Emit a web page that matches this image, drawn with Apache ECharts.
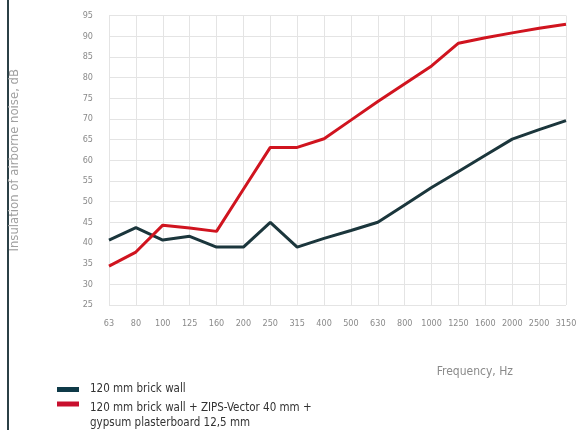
<!DOCTYPE html>
<html><head><meta charset="utf-8">
<script src="https://cdn.jsdelivr.net/npm/echarts@6/dist/echarts.min.js"></script>
<style>html,body{margin:0;padding:0;background:#fff}#c{width:580px;height:430px}</style>
</head><body><div id="c"></div>
<script>
const categories = ['63','80','100','125','160','200','250','315','400','500','630','800','1000','1250','1600','2000','2500','3150'];
const brickWall = [40.7,43.7,40.7,41.6,39,39,45,39,41.1,43,45,49.2,53.4,57.3,61.2,65.1,67.4,69.6];
const brickWallZips = [34.4,37.8,44.3,43.6,42.8,53,63.1,63.1,65.2,69.7,74.2,78.5,82.8,88.3,89.6,90.8,91.9,92.9];
const nameA = '120 mm brick wall';
const nameB = '120 mm brick wall + ZIPS-Vector 40 mm +\ngypsum plasterboard 12,5 mm';
const fontFam = '"DejaVu Sans Condensed","Roboto","Noto Sans",sans-serif';
const txt = {color:'#333',fontSize:11.5,fontFamily:fontFam,lineHeight:15};
const legendRich = {
  a:Object.assign({},txt,{padding:[0,0,0,6]}),
  b:Object.assign({},txt,{padding:[8,0,0,6]})
};
const nameBLines = nameB.split('\n');
const chart = echarts.init(document.getElementById('c'));
chart.setOption({
  animation:false,
  grid:{left:108,right:14,top:15.5,bottom:125},
  xAxis:{type:'category',data:categories,boundaryGap:false,
    axisLine:{show:false},axisTick:{show:false},
    axisLabel:{color:'#8a8a8a',fontSize:9,fontFamily:fontFam,margin:14,interval:0},
    splitLine:{show:true,lineStyle:{color:'#e4e4e4',width:1}}},
  yAxis:{type:'value',min:25,max:95,interval:5,
    name:'Insulation of airborne noise, dB',nameLocation:'middle',nameGap:88,
    nameTextStyle:{color:'#a0a0a0',fontSize:13,fontFamily:fontFam},
    axisLine:{show:false},axisTick:{show:false},
    axisLabel:{color:'#8a8a8a',fontSize:9,fontFamily:fontFam,margin:16},
    splitLine:{lineStyle:{color:'#e4e4e4',width:1}}},
  legend:[
    {orient:'vertical',left:57,top:383.5,padding:0,itemWidth:22,itemHeight:5,icon:'rect',
      formatter:n => '{a|' + n + '}',textStyle:{rich:legendRich},data:[nameA]},
    {orient:'vertical',left:57,top:394,padding:0,itemWidth:22,itemHeight:5,icon:'rect',
      formatter:n => '{b|' + n.split('\n')[0] + '}',textStyle:{rich:legendRich},data:[nameB]}
  ],
  graphic:[
    {type:'rect',shape:{x:7,y:0,width:2,height:430},style:{fill:'#2b4046'}},
    {type:'text',right:67,top:366,style:{text:'Frequency, Hz',fill:'#8a8a8a',font:'12px '+fontFam}},
    {type:'text',left:90,top:417.5,style:{text:nameBLines[1],fill:'#333',font:'11.5px '+fontFam}}
  ],
  series:[
    {name:nameA,type:'line',data:brickWall,symbol:'none',lineStyle:{color:'#1b363c',width:3},itemStyle:{color:'#0f3a48'}},
    {name:nameB,type:'line',data:brickWallZips,symbol:'none',lineStyle:{color:'#d0141f',width:3},itemStyle:{color:'#c8102e'}}
  ]
});
</script></body></html>
